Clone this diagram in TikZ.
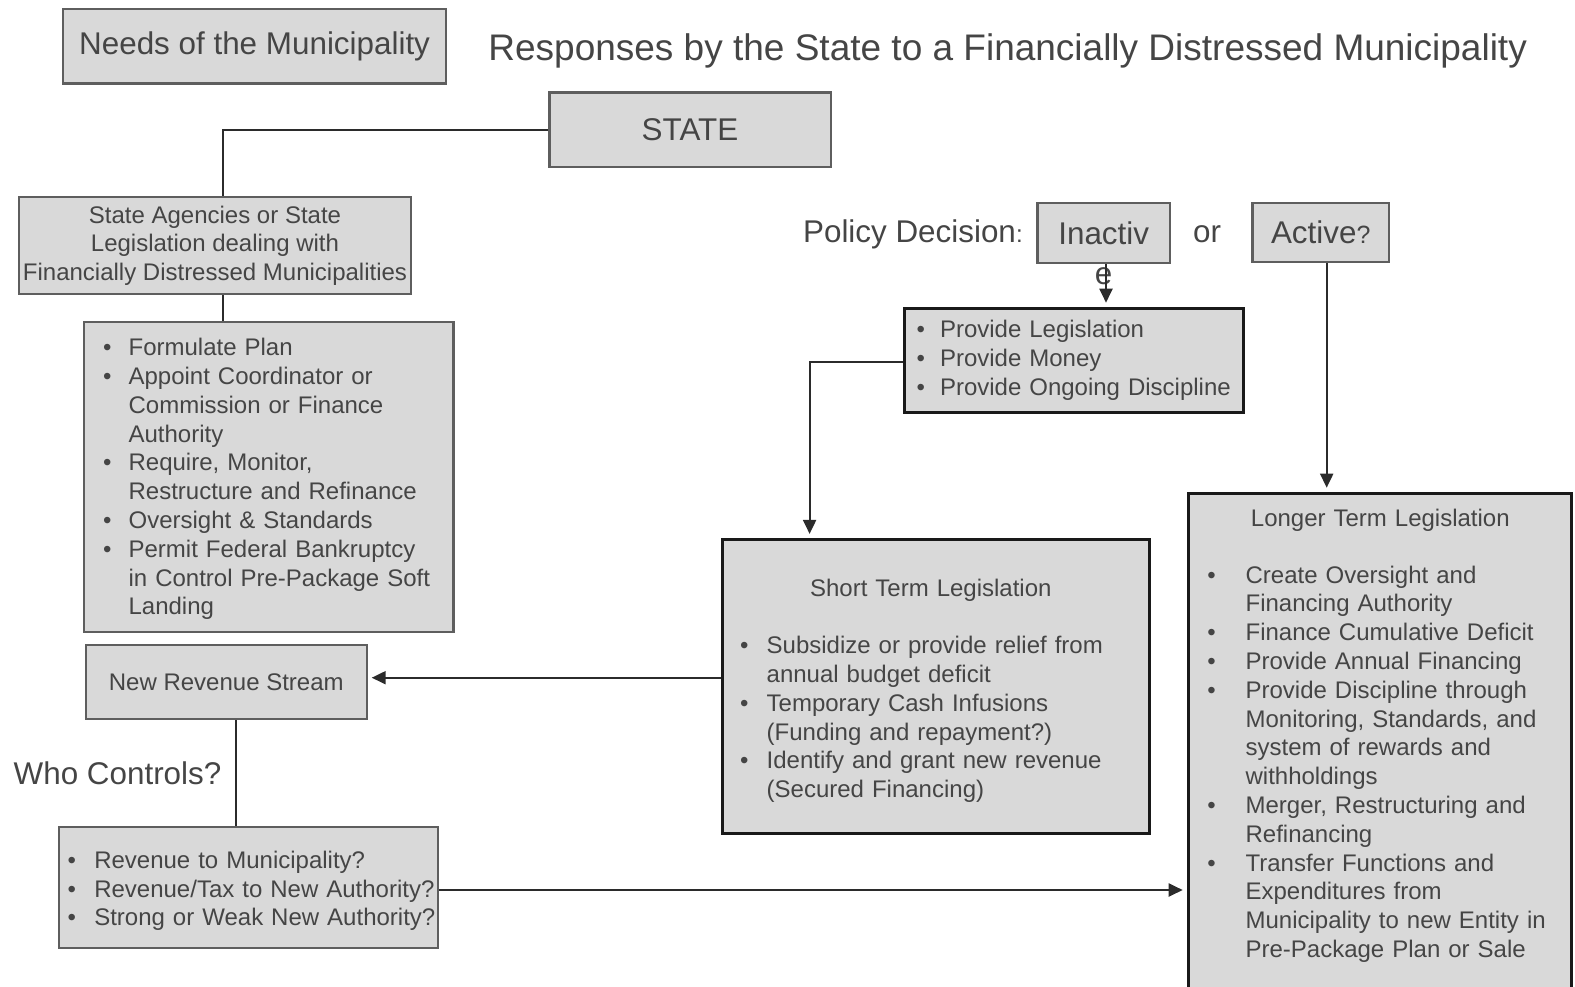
\documentclass[tikz,border=0pt]{standalone}
\usepackage{fontspec}
\setmainfont{Liberation Sans}
\usetikzlibrary{arrows.meta}

\definecolor{boxfill}{HTML}{D9D9D9}
\definecolor{boxedge}{HTML}{5E5E5E}
\definecolor{inkgray}{HTML}{454545}
\definecolor{linkgray}{HTML}{2B2B2B}

\newcommand{\bul}[1]{\makebox[#1][l]{\textbullet}}
\newcommand{\ind}[1]{\hspace*{#1}}

\begin{document}
\begin{tikzpicture}[x=0.5pt,y=-0.5pt,
	box/.style={draw=boxedge,line width=1.1pt,fill=boxfill,text=inkgray,inner sep=0pt,
		font=\fontsize{12}{14.4}\selectfont},
	darkbox/.style={box,draw=black!90,line width=1.5pt},
	bigtext/.style={font=\fontsize{15.7}{18}\selectfont},
	freetext/.style={text=inkgray,inner sep=0pt,anchor=base west},
	link/.style={draw=linkgray,line width=1pt},
	flow/.style={link,-{Triangle[length=7pt,width=6.5pt]},shorten >=2pt}]

	\useasboundingbox (0,0) rectangle (1575,986);

	\node[box,bigtext,minimum width=191.4pt,minimum height=37.2pt] (needs) at (254.6,46.2) {Needs of the Municipality};
	\node[freetext,font=\fontsize{18.5}{22}\selectfont] (title) at (488,60.7) {Responses by the State to a Financially Distressed Municipality};
	\node[box,bigtext,minimum width=140.6pt,minimum height=37.2pt] (state) at (690,129.6) {STATE};
	\node[box,align=center,minimum width=195.9pt,minimum height=48.7pt] (agencies) at (215,245.6)
		{State Agencies or State\\Legislation dealing with\\Financially Distressed Municipalities};
	\node[box,text width=184.7pt,minimum height=155.3pt,align=left] (plan) at (268.7,477) {\leftskip=9.5pt
		\bul{12.8pt}\rule{0pt}{10.7pt}Formulate Plan\\
		\bul{12.8pt}Appoint Coordinator or\\
		\ind{12.8pt}Commission or Finance\\
		\ind{12.8pt}Authority\\
		\bul{12.8pt}Require, Monitor,\\
		\ind{12.8pt}Restructure and Refinance\\
		\bul{12.8pt}Oversight \& Standards\\
		\bul{12.8pt}Permit Federal Bankruptcy\\
		\ind{12.8pt}in Control Pre-Package Soft\\
		\ind{12.8pt}Landing\par};
	\node[box,minimum width=140.3pt,minimum height=37.3pt] (nrs) at (226.3,682) {New Revenue Stream};
	\node[freetext,bigtext] (who) at (13.3,784) {Who Controls?};
	\node[box,text width=189.2pt,minimum height=60.2pt,align=left] (rev) at (248.5,887.5) {\leftskip=4.1pt
		\bul{13.4pt}\rule{0pt}{12pt}Revenue to Municipality?\\
		\bul{13.4pt}Revenue/Tax to New Authority?\\
		\bul{13.4pt}Strong or Weak New Authority?\par};

	\node[freetext,bigtext] (policy) at (802.7,242.7) {Policy Decision{\fontsize{12}{14}\selectfont :}};
	\node[box,bigtext,minimum width=66.3pt,minimum height=30pt,
		label={[text=inkgray,bigtext,inner sep=0pt,label distance=1.5pt]below:e}] (inactive) at (1103.7,233.3) {Inactiv};
	\node[freetext,bigtext] (or) at (1192.7,242.3) {or};
	\node[box,bigtext,minimum width=68.3pt,minimum height=29.2pt] (active) at (1320.7,232.5) {Active{\fontsize{12.5}{14}\selectfont ?}};
	\node[darkbox,text width=169.75pt,minimum height=52.2pt,align=left] (provide) at (1073.75,360.4) {\leftskip=6.25pt
		\bul{11.75pt}Provide Legislation\\
		\bul{11.75pt}Provide Money\\
		\bul{11.75pt}Provide Ongoing Discipline\par};
	\node[darkbox,text width=213.2pt,minimum height=147.2pt,align=left] (short) at (935.9,686.6) {\leftskip=8.7pt
		\ind{35pt}\rule{0pt}{13pt}Short Term Legislation\\[14.2pt]
		\bul{13.3pt}Subsidize or provide relief from\\
		\ind{13.3pt}annual budget deficit\\
		\bul{13.3pt}Temporary Cash Infusions\\
		\ind{13.3pt}(Funding and repayment?)\\
		\bul{13.3pt}Identify and grant new revenue\\
		\ind{13.3pt}(Secured Financing)\par};
	\node[darkbox,anchor=north,text width=191.4pt,inner ysep=8pt,align=left] (longer) at (1379.6,491.7) {\leftskip=9.6pt
		\ind{21.75pt}Longer Term Legislation\\[13.9pt]
		\bul{19.1pt}Create Oversight and\\
		\ind{19.1pt}Financing Authority\\
		\bul{19.1pt}Finance Cumulative Deficit\\
		\bul{19.1pt}Provide Annual Financing\\
		\bul{19.1pt}Provide Discipline through\\
		\ind{19.1pt}Monitoring, Standards, and\\
		\ind{19.1pt}system of rewards and\\
		\ind{19.1pt}withholdings\\
		\bul{19.1pt}Merger, Restructuring and\\
		\ind{19.1pt}Refinancing\\
		\bul{19.1pt}Transfer Functions and\\
		\ind{19.1pt}Expenditures from\\
		\ind{19.1pt}Municipality to new Entity in\\
		\ind{19.1pt}Pre-Package Plan or Sale\\[10pt]\mbox{}\par};

	\draw[link] (state.west) -| ([xshift=4pt]agencies.north);
	\draw[link] ([xshift=4pt]agencies.south) -- ([xshift=4pt]agencies.south |- plan.north);
	\draw[link] ([xshift=4.85pt]nrs.south) -- ([xshift=4.85pt]nrs.south |- rev.north);
	\draw[flow] (rev.east |- 0,890) -- (longer.west |- 0,890);
	\draw[flow] (short.west |- 0,677.7) -- (nrs.east |- 0,677.7);
	\draw[flow] (provide.west |- 0,361.6) -| (short.north -| 809.6,0);
	\draw[flow] ([xshift=1.15pt]inactive.south) -- ([xshift=1.15pt]inactive.south |- provide.north);
	\draw[flow] ([xshift=3pt]active.south) -- ([xshift=3pt]active.south |- longer.north);
\end{tikzpicture}
\end{document}
